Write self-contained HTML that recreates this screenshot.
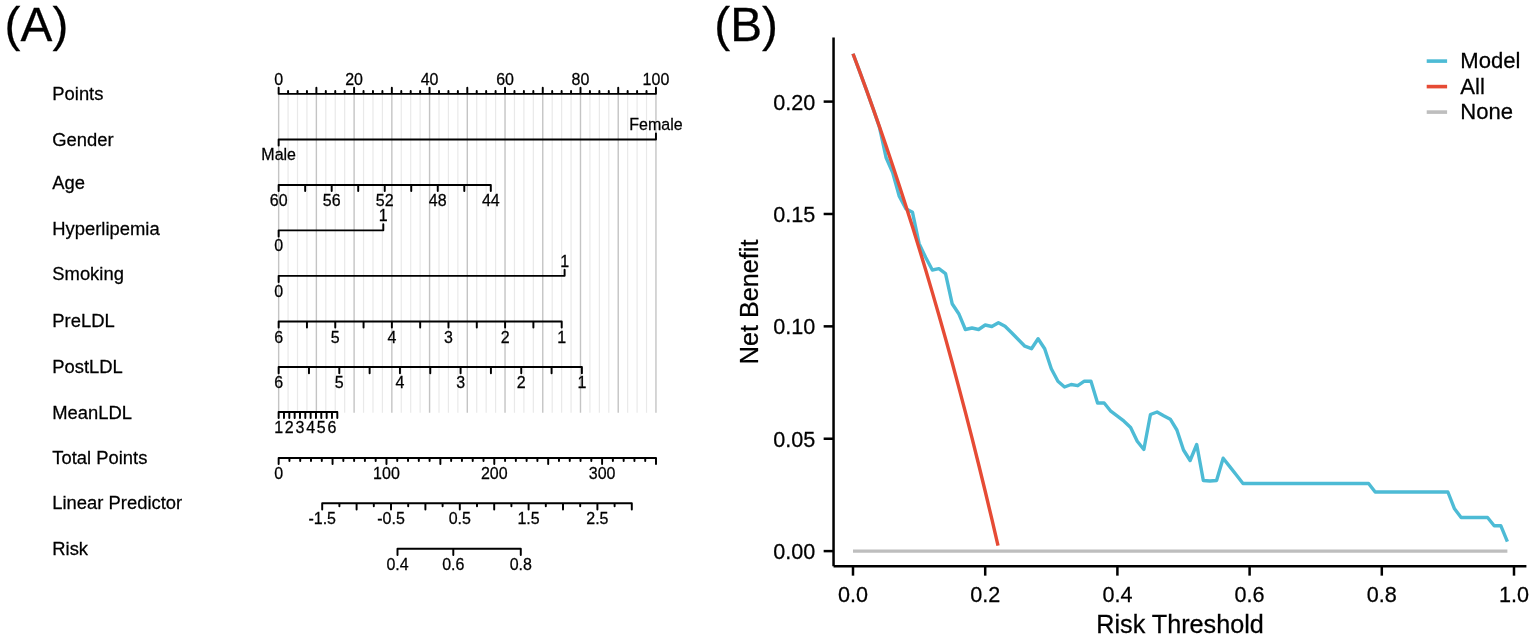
<!DOCTYPE html>
<html><head><meta charset="utf-8"><title>Nomogram and decision curve</title>
<style>
html,body{margin:0;padding:0;background:#fff;}
svg{display:block;font-family:"Liberation Sans", Arial, Helvetica, sans-serif;fill:#000;}
text{stroke:#000;stroke-width:0.25px;}
</style></head>
<body>
<svg width="1535" height="640" viewBox="0 0 1535 640">
<rect width="1535" height="640" fill="#fff"/>
<line x1="278.65" y1="93.85" x2="278.65" y2="412.70" stroke="#c4c4c4" stroke-width="1.4"/>
<line x1="288.08" y1="93.85" x2="288.08" y2="412.70" stroke="#e9e9e9" stroke-width="1.2"/>
<line x1="297.51" y1="93.85" x2="297.51" y2="412.70" stroke="#e9e9e9" stroke-width="1.2"/>
<line x1="306.95" y1="93.85" x2="306.95" y2="412.70" stroke="#e9e9e9" stroke-width="1.2"/>
<line x1="316.38" y1="93.85" x2="316.38" y2="412.70" stroke="#c4c4c4" stroke-width="1.4"/>
<line x1="325.81" y1="93.85" x2="325.81" y2="412.70" stroke="#e9e9e9" stroke-width="1.2"/>
<line x1="335.25" y1="93.85" x2="335.25" y2="412.70" stroke="#e9e9e9" stroke-width="1.2"/>
<line x1="344.68" y1="93.85" x2="344.68" y2="412.70" stroke="#e9e9e9" stroke-width="1.2"/>
<line x1="354.11" y1="93.85" x2="354.11" y2="412.70" stroke="#c4c4c4" stroke-width="1.4"/>
<line x1="363.54" y1="93.85" x2="363.54" y2="412.70" stroke="#e9e9e9" stroke-width="1.2"/>
<line x1="372.97" y1="93.85" x2="372.97" y2="412.70" stroke="#e9e9e9" stroke-width="1.2"/>
<line x1="382.41" y1="93.85" x2="382.41" y2="412.70" stroke="#e9e9e9" stroke-width="1.2"/>
<line x1="391.84" y1="93.85" x2="391.84" y2="412.70" stroke="#c4c4c4" stroke-width="1.4"/>
<line x1="401.27" y1="93.85" x2="401.27" y2="412.70" stroke="#e9e9e9" stroke-width="1.2"/>
<line x1="410.70" y1="93.85" x2="410.70" y2="412.70" stroke="#e9e9e9" stroke-width="1.2"/>
<line x1="420.14" y1="93.85" x2="420.14" y2="412.70" stroke="#e9e9e9" stroke-width="1.2"/>
<line x1="429.57" y1="93.85" x2="429.57" y2="412.70" stroke="#c4c4c4" stroke-width="1.4"/>
<line x1="439.00" y1="93.85" x2="439.00" y2="412.70" stroke="#e9e9e9" stroke-width="1.2"/>
<line x1="448.43" y1="93.85" x2="448.43" y2="412.70" stroke="#e9e9e9" stroke-width="1.2"/>
<line x1="457.87" y1="93.85" x2="457.87" y2="412.70" stroke="#e9e9e9" stroke-width="1.2"/>
<line x1="467.30" y1="93.85" x2="467.30" y2="412.70" stroke="#c4c4c4" stroke-width="1.4"/>
<line x1="476.73" y1="93.85" x2="476.73" y2="412.70" stroke="#e9e9e9" stroke-width="1.2"/>
<line x1="486.16" y1="93.85" x2="486.16" y2="412.70" stroke="#e9e9e9" stroke-width="1.2"/>
<line x1="495.60" y1="93.85" x2="495.60" y2="412.70" stroke="#e9e9e9" stroke-width="1.2"/>
<line x1="505.03" y1="93.85" x2="505.03" y2="412.70" stroke="#c4c4c4" stroke-width="1.4"/>
<line x1="514.46" y1="93.85" x2="514.46" y2="412.70" stroke="#e9e9e9" stroke-width="1.2"/>
<line x1="523.89" y1="93.85" x2="523.89" y2="412.70" stroke="#e9e9e9" stroke-width="1.2"/>
<line x1="533.33" y1="93.85" x2="533.33" y2="412.70" stroke="#e9e9e9" stroke-width="1.2"/>
<line x1="542.76" y1="93.85" x2="542.76" y2="412.70" stroke="#c4c4c4" stroke-width="1.4"/>
<line x1="552.19" y1="93.85" x2="552.19" y2="412.70" stroke="#e9e9e9" stroke-width="1.2"/>
<line x1="561.62" y1="93.85" x2="561.62" y2="412.70" stroke="#e9e9e9" stroke-width="1.2"/>
<line x1="571.06" y1="93.85" x2="571.06" y2="412.70" stroke="#e9e9e9" stroke-width="1.2"/>
<line x1="580.49" y1="93.85" x2="580.49" y2="412.70" stroke="#c4c4c4" stroke-width="1.4"/>
<line x1="589.92" y1="93.85" x2="589.92" y2="412.70" stroke="#e9e9e9" stroke-width="1.2"/>
<line x1="599.36" y1="93.85" x2="599.36" y2="412.70" stroke="#e9e9e9" stroke-width="1.2"/>
<line x1="608.79" y1="93.85" x2="608.79" y2="412.70" stroke="#e9e9e9" stroke-width="1.2"/>
<line x1="618.22" y1="93.85" x2="618.22" y2="412.70" stroke="#c4c4c4" stroke-width="1.4"/>
<line x1="627.65" y1="93.85" x2="627.65" y2="412.70" stroke="#e9e9e9" stroke-width="1.2"/>
<line x1="637.09" y1="93.85" x2="637.09" y2="412.70" stroke="#e9e9e9" stroke-width="1.2"/>
<line x1="646.52" y1="93.85" x2="646.52" y2="412.70" stroke="#e9e9e9" stroke-width="1.2"/>
<line x1="655.95" y1="93.85" x2="655.95" y2="412.70" stroke="#c4c4c4" stroke-width="1.4"/>
<text transform="translate(52.30,100.30) scale(1,1.04)" font-size="18.4">Points</text>
<text transform="translate(52.30,145.60) scale(1,1.04)" font-size="18.4">Gender</text>
<text transform="translate(52.30,189.30) scale(1,1.04)" font-size="18.4">Age</text>
<text transform="translate(52.30,234.60) scale(1,1.04)" font-size="18.4">Hyperlipemia</text>
<text transform="translate(52.30,280.30) scale(1,1.04)" font-size="18.4">Smoking</text>
<text transform="translate(52.30,327.40) scale(1,1.04)" font-size="18.4">PreLDL</text>
<text transform="translate(52.30,373.20) scale(1,1.04)" font-size="18.4">PostLDL</text>
<text transform="translate(52.30,418.70) scale(1,1.04)" font-size="18.4">MeanLDL</text>
<text transform="translate(52.30,464.20) scale(1,1.04)" font-size="18.4">Total Points</text>
<text transform="translate(52.30,509.40) scale(1,1.04)" font-size="18.4">Linear Predictor</text>
<text transform="translate(52.30,555.20) scale(1,1.04)" font-size="18.4">Risk</text>
<text transform="translate(278.65,84.85) scale(1,1.04)" font-size="16.0" text-anchor="middle">0</text>
<text transform="translate(354.11,84.85) scale(1,1.04)" font-size="16.0" text-anchor="middle">20</text>
<text transform="translate(429.57,84.85) scale(1,1.04)" font-size="16.0" text-anchor="middle">40</text>
<text transform="translate(505.03,84.85) scale(1,1.04)" font-size="16.0" text-anchor="middle">60</text>
<text transform="translate(580.49,84.85) scale(1,1.04)" font-size="16.0" text-anchor="middle">80</text>
<text transform="translate(655.95,84.85) scale(1,1.04)" font-size="16.0" text-anchor="middle">100</text>
<text transform="translate(278.65,160.45) scale(1,1.04)" font-size="16.0" text-anchor="middle">Male</text>
<text transform="translate(655.95,130.45) scale(1,1.04)" font-size="16.0" text-anchor="middle">Female</text>
<text transform="translate(278.65,206.00) scale(1,1.04)" font-size="16.0" text-anchor="middle">60</text>
<text transform="translate(331.69,206.00) scale(1,1.04)" font-size="16.0" text-anchor="middle">56</text>
<text transform="translate(384.73,206.00) scale(1,1.04)" font-size="16.0" text-anchor="middle">52</text>
<text transform="translate(437.76,206.00) scale(1,1.04)" font-size="16.0" text-anchor="middle">48</text>
<text transform="translate(490.80,206.00) scale(1,1.04)" font-size="16.0" text-anchor="middle">44</text>
<text transform="translate(278.65,251.35) scale(1,1.04)" font-size="16.0" text-anchor="middle">0</text>
<text transform="translate(383.30,221.35) scale(1,1.04)" font-size="16.0" text-anchor="middle">1</text>
<text transform="translate(278.65,296.85) scale(1,1.04)" font-size="16.0" text-anchor="middle">0</text>
<text transform="translate(564.60,266.85) scale(1,1.04)" font-size="16.0" text-anchor="middle">1</text>
<text transform="translate(278.65,342.50) scale(1,1.04)" font-size="16.0" text-anchor="middle">6</text>
<text transform="translate(335.26,342.50) scale(1,1.04)" font-size="16.0" text-anchor="middle">5</text>
<text transform="translate(391.87,342.50) scale(1,1.04)" font-size="16.0" text-anchor="middle">4</text>
<text transform="translate(448.48,342.50) scale(1,1.04)" font-size="16.0" text-anchor="middle">3</text>
<text transform="translate(505.09,342.50) scale(1,1.04)" font-size="16.0" text-anchor="middle">2</text>
<text transform="translate(561.70,342.50) scale(1,1.04)" font-size="16.0" text-anchor="middle">1</text>
<text transform="translate(278.65,388.05) scale(1,1.04)" font-size="16.0" text-anchor="middle">6</text>
<text transform="translate(339.30,388.05) scale(1,1.04)" font-size="16.0" text-anchor="middle">5</text>
<text transform="translate(399.95,388.05) scale(1,1.04)" font-size="16.0" text-anchor="middle">4</text>
<text transform="translate(460.60,388.05) scale(1,1.04)" font-size="16.0" text-anchor="middle">3</text>
<text transform="translate(521.25,388.05) scale(1,1.04)" font-size="16.0" text-anchor="middle">2</text>
<text transform="translate(581.90,388.05) scale(1,1.04)" font-size="16.0" text-anchor="middle">1</text>
<text transform="translate(278.65,432.95) scale(1,1.04)" font-size="16.0" text-anchor="middle">1</text>
<text transform="translate(289.31,432.95) scale(1,1.04)" font-size="16.0" text-anchor="middle">2</text>
<text transform="translate(299.98,432.95) scale(1,1.04)" font-size="16.0" text-anchor="middle">3</text>
<text transform="translate(310.64,432.95) scale(1,1.04)" font-size="16.0" text-anchor="middle">4</text>
<text transform="translate(321.30,432.95) scale(1,1.04)" font-size="16.0" text-anchor="middle">5</text>
<text transform="translate(331.97,432.95) scale(1,1.04)" font-size="16.0" text-anchor="middle">6</text>
<text transform="translate(278.65,479.00) scale(1,1.04)" font-size="16.0" text-anchor="middle">0</text>
<text transform="translate(386.46,479.00) scale(1,1.04)" font-size="16.0" text-anchor="middle">100</text>
<text transform="translate(494.28,479.00) scale(1,1.04)" font-size="16.0" text-anchor="middle">200</text>
<text transform="translate(602.09,479.00) scale(1,1.04)" font-size="16.0" text-anchor="middle">300</text>
<text transform="translate(322.20,524.30) scale(1,1.04)" font-size="16.0" text-anchor="middle">-1.5</text>
<text transform="translate(391.00,524.30) scale(1,1.04)" font-size="16.0" text-anchor="middle">-0.5</text>
<text transform="translate(459.80,524.30) scale(1,1.04)" font-size="16.0" text-anchor="middle">0.5</text>
<text transform="translate(528.60,524.30) scale(1,1.04)" font-size="16.0" text-anchor="middle">1.5</text>
<text transform="translate(597.40,524.30) scale(1,1.04)" font-size="16.0" text-anchor="middle">2.5</text>
<text transform="translate(397.50,569.80) scale(1,1.04)" font-size="16.0" text-anchor="middle">0.4</text>
<text transform="translate(453.30,569.80) scale(1,1.04)" font-size="16.0" text-anchor="middle">0.6</text>
<text transform="translate(520.78,569.80) scale(1,1.04)" font-size="16.0" text-anchor="middle">0.8</text>
<path d="M278.65,93.85H655.95M278.65,93.85V87.75M288.08,93.85V90.95M297.51,93.85V90.95M306.95,93.85V90.95M316.38,93.85V87.75M325.81,93.85V90.95M335.25,93.85V90.95M344.68,93.85V90.95M354.11,93.85V87.75M363.54,93.85V90.95M372.97,93.85V90.95M382.41,93.85V90.95M391.84,93.85V87.75M401.27,93.85V90.95M410.70,93.85V90.95M420.14,93.85V90.95M429.57,93.85V87.75M439.00,93.85V90.95M448.43,93.85V90.95M457.87,93.85V90.95M467.30,93.85V87.75M476.73,93.85V90.95M486.16,93.85V90.95M495.60,93.85V90.95M505.03,93.85V87.75M514.46,93.85V90.95M523.89,93.85V90.95M533.33,93.85V90.95M542.76,93.85V87.75M552.19,93.85V90.95M561.62,93.85V90.95M571.06,93.85V90.95M580.49,93.85V87.75M589.92,93.85V90.95M599.36,93.85V90.95M608.79,93.85V90.95M618.22,93.85V87.75M627.65,93.85V90.95M637.09,93.85V90.95M646.52,93.85V90.95M655.95,93.85V87.75M278.65,139.45H655.95M278.65,139.45V145.55M655.95,139.45V133.35M278.65,185.00H490.80M278.65,185.00V191.10M305.17,185.00V191.10M331.69,185.00V191.10M358.21,185.00V191.10M384.73,185.00V191.10M411.24,185.00V191.10M437.76,185.00V191.10M464.28,185.00V191.10M490.80,185.00V191.10M278.65,230.35H383.30M278.65,230.35V236.45M383.30,230.35V224.25M278.65,275.85H564.60M278.65,275.85V281.95M564.60,275.85V269.75M278.65,321.50H561.70M278.65,321.50V327.60M306.95,321.50V327.60M335.26,321.50V327.60M363.56,321.50V327.60M391.87,321.50V327.60M420.18,321.50V327.60M448.48,321.50V327.60M476.79,321.50V327.60M505.09,321.50V327.60M533.39,321.50V327.60M561.70,321.50V327.60M278.65,367.05H581.90M278.65,367.05V373.15M308.97,367.05V373.15M339.30,367.05V373.15M369.62,367.05V373.15M399.95,367.05V373.15M430.27,367.05V373.15M460.60,367.05V373.15M490.92,367.05V373.15M521.25,367.05V373.15M551.58,367.05V373.15M581.90,367.05V373.15M278.65,411.95H337.30M278.65,411.95V418.05M283.98,411.95V418.05M289.31,411.95V418.05M294.65,411.95V418.05M299.98,411.95V418.05M305.31,411.95V418.05M310.64,411.95V418.05M315.97,411.95V418.05M321.30,411.95V418.05M326.64,411.95V418.05M331.97,411.95V418.05M337.30,411.95V418.05M278.65,458.00H656.00M278.65,458.00V464.10M289.43,458.00V460.90M300.21,458.00V460.90M310.99,458.00V460.90M321.78,458.00V460.90M332.56,458.00V464.10M343.34,458.00V460.90M354.12,458.00V460.90M364.90,458.00V460.90M375.68,458.00V460.90M386.46,458.00V464.10M397.25,458.00V460.90M408.03,458.00V460.90M418.81,458.00V460.90M429.59,458.00V460.90M440.37,458.00V464.10M451.15,458.00V460.90M461.93,458.00V460.90M472.72,458.00V460.90M483.50,458.00V460.90M494.28,458.00V464.10M505.06,458.00V460.90M515.84,458.00V460.90M526.62,458.00V460.90M537.40,458.00V460.90M548.19,458.00V464.10M558.97,458.00V460.90M569.75,458.00V460.90M580.53,458.00V460.90M591.31,458.00V460.90M602.09,458.00V464.10M612.87,458.00V460.90M623.66,458.00V460.90M634.44,458.00V460.90M645.22,458.00V460.90M656.00,458.00V464.10M322.20,503.30H631.80M322.20,503.30V509.40M339.40,503.30V506.20M356.60,503.30V509.40M373.80,503.30V506.20M391.00,503.30V509.40M408.20,503.30V506.20M425.40,503.30V509.40M442.60,503.30V506.20M459.80,503.30V509.40M477.00,503.30V506.20M494.20,503.30V509.40M511.40,503.30V506.20M528.60,503.30V509.40M545.80,503.30V506.20M563.00,503.30V509.40M580.20,503.30V506.20M597.40,503.30V509.40M614.60,503.30V506.20M631.80,503.30V509.40M397.50,548.80H520.78M397.50,548.80V554.90M453.30,548.80V554.90M520.78,548.80V554.90" fill="none" stroke="#000" stroke-width="1.95" stroke-linecap="round" stroke-linejoin="round"/>
<text transform="translate(4.60,40.80) scale(1,1.015)" font-size="47.8">(A)</text>
<text transform="translate(714.30,40.80) scale(1,1.015)" font-size="47.8">(B)</text>
<path d="M833.55,37.6 V566.15 M833.55,566.15 H1526.4" fill="none" stroke="#000" stroke-width="2.5" stroke-linecap="butt"/>
<line x1="823.65" y1="551.10" x2="833.55" y2="551.10" stroke="#000" stroke-width="2.5"/>
<text transform="translate(815.20,559.00) scale(1,1.04)" font-size="21.6" text-anchor="end">0.00</text>
<line x1="823.65" y1="438.73" x2="833.55" y2="438.73" stroke="#000" stroke-width="2.5"/>
<text transform="translate(815.20,446.62) scale(1,1.04)" font-size="21.6" text-anchor="end">0.05</text>
<line x1="823.65" y1="326.35" x2="833.55" y2="326.35" stroke="#000" stroke-width="2.5"/>
<text transform="translate(815.20,334.25) scale(1,1.04)" font-size="21.6" text-anchor="end">0.10</text>
<line x1="823.65" y1="213.98" x2="833.55" y2="213.98" stroke="#000" stroke-width="2.5"/>
<text transform="translate(815.20,221.88) scale(1,1.04)" font-size="21.6" text-anchor="end">0.15</text>
<line x1="823.65" y1="101.60" x2="833.55" y2="101.60" stroke="#000" stroke-width="2.5"/>
<text transform="translate(815.20,109.50) scale(1,1.04)" font-size="21.6" text-anchor="end">0.20</text>
<line x1="853.00" y1="566.15" x2="853.00" y2="575.65" stroke="#000" stroke-width="2.5"/>
<text transform="translate(853.00,601.90) scale(1,1.04)" font-size="21.6" text-anchor="middle">0.0</text>
<line x1="985.20" y1="566.15" x2="985.20" y2="575.65" stroke="#000" stroke-width="2.5"/>
<text transform="translate(985.20,601.90) scale(1,1.04)" font-size="21.6" text-anchor="middle">0.2</text>
<line x1="1117.40" y1="566.15" x2="1117.40" y2="575.65" stroke="#000" stroke-width="2.5"/>
<text transform="translate(1117.40,601.90) scale(1,1.04)" font-size="21.6" text-anchor="middle">0.4</text>
<line x1="1249.60" y1="566.15" x2="1249.60" y2="575.65" stroke="#000" stroke-width="2.5"/>
<text transform="translate(1249.60,601.90) scale(1,1.04)" font-size="21.6" text-anchor="middle">0.6</text>
<line x1="1381.80" y1="566.15" x2="1381.80" y2="575.65" stroke="#000" stroke-width="2.5"/>
<text transform="translate(1381.80,601.90) scale(1,1.04)" font-size="21.6" text-anchor="middle">0.8</text>
<line x1="1514.00" y1="566.15" x2="1514.00" y2="575.65" stroke="#000" stroke-width="2.5"/>
<text transform="translate(1514.00,601.90) scale(1,1.04)" font-size="21.6" text-anchor="middle">1.0</text>
<text transform="translate(1180.00,632.80) scale(1,1.04)" font-size="25.2" text-anchor="middle">Risk Threshold</text>
<text transform="translate(757.60,301.90) rotate(-90) scale(1,1.04)" font-size="25.2" text-anchor="middle">Net Benefit</text>
<path d="M853.00,53.73 L859.61,71.41 L866.22,89.45 L872.83,107.86 L879.44,127.20 L886.05,157.50 L892.66,172.50 L899.27,196.30 L905.88,208.70 L912.49,212.30 L919.10,243.70 L925.71,257.50 L932.32,270.00 L938.93,268.70 L945.54,273.70 L952.15,303.70 L958.76,313.70 L965.37,329.50 L971.98,328.00 L978.59,329.50 L985.20,325.00 L991.81,326.50 L998.42,322.70 L1005.03,326.20 L1011.64,332.70 L1018.25,339.50 L1024.86,346.20 L1031.47,348.70 L1038.08,338.70 L1044.69,348.70 L1051.30,368.70 L1057.91,381.20 L1064.52,387.00 L1071.13,384.50 L1077.74,385.70 L1084.35,381.20 L1090.96,381.20 L1097.57,403.00 L1104.18,403.00 L1110.79,411.20 L1117.40,416.20 L1124.01,421.20 L1130.62,427.50 L1137.23,441.20 L1143.84,449.50 L1150.45,414.50 L1157.06,412.00 L1163.67,415.70 L1170.28,419.20 L1176.89,430.00 L1183.50,450.00 L1190.11,460.50 L1196.72,444.50 L1203.33,480.50 L1209.94,481.00 L1216.55,480.50 L1223.16,458.20 L1229.77,466.63 L1236.38,475.07 L1242.99,483.50 L1249.60,483.50 L1256.21,483.50 L1262.82,483.50 L1269.43,483.50 L1276.04,483.50 L1282.65,483.50 L1289.26,483.50 L1295.87,483.50 L1302.48,483.50 L1309.09,483.50 L1315.70,483.50 L1322.31,483.50 L1328.92,483.50 L1335.53,483.50 L1342.14,483.50 L1348.75,483.50 L1355.36,483.50 L1361.97,483.50 L1368.58,483.50 L1375.19,492.00 L1381.80,492.00 L1388.41,492.00 L1395.02,492.00 L1401.63,492.00 L1408.24,492.00 L1414.85,492.00 L1421.46,492.00 L1428.07,492.00 L1434.68,492.00 L1441.29,492.00 L1447.90,492.00 L1454.51,508.80 L1461.12,517.50 L1467.73,517.50 L1474.34,517.50 L1480.95,517.50 L1487.56,517.50 L1494.17,525.70 L1500.78,525.70 L1507.39,541.60" fill="none" stroke="#4DBBD5" stroke-width="3.4" stroke-linejoin="round"/>
<path d="M853.00,53.73 L859.61,71.41 L866.22,89.45 L872.83,107.86 L879.44,126.65 L886.05,145.84 L892.66,165.44 L899.27,185.46 L905.88,205.91 L912.49,226.82 L919.10,248.19 L925.71,270.04 L932.32,292.38 L938.93,315.24 L945.54,338.63 L952.15,362.57 L958.76,387.09 L965.37,412.19 L971.98,437.90 L978.59,464.25 L985.20,491.26 L991.81,518.95 L998.02,545.63" fill="none" stroke="#E64B35" stroke-width="3.4" stroke-linejoin="round"/>
<line x1="853.00" y1="551.10" x2="1507.39" y2="551.10" stroke="#BEBEBE" stroke-width="3.4"/>
<line x1="1426.7" y1="61.10" x2="1447.1" y2="61.10" stroke="#4DBBD5" stroke-width="3.6"/>
<text transform="translate(1460.30,68.40) scale(1,1.04)" font-size="22.1">Model</text>
<line x1="1426.7" y1="86.60" x2="1447.1" y2="86.60" stroke="#E64B35" stroke-width="3.6"/>
<text transform="translate(1460.30,93.90) scale(1,1.04)" font-size="22.1">All</text>
<line x1="1426.7" y1="112.10" x2="1447.1" y2="112.10" stroke="#BEBEBE" stroke-width="3.6"/>
<text transform="translate(1460.30,119.40) scale(1,1.04)" font-size="22.1">None</text>
</svg>
</body></html>
